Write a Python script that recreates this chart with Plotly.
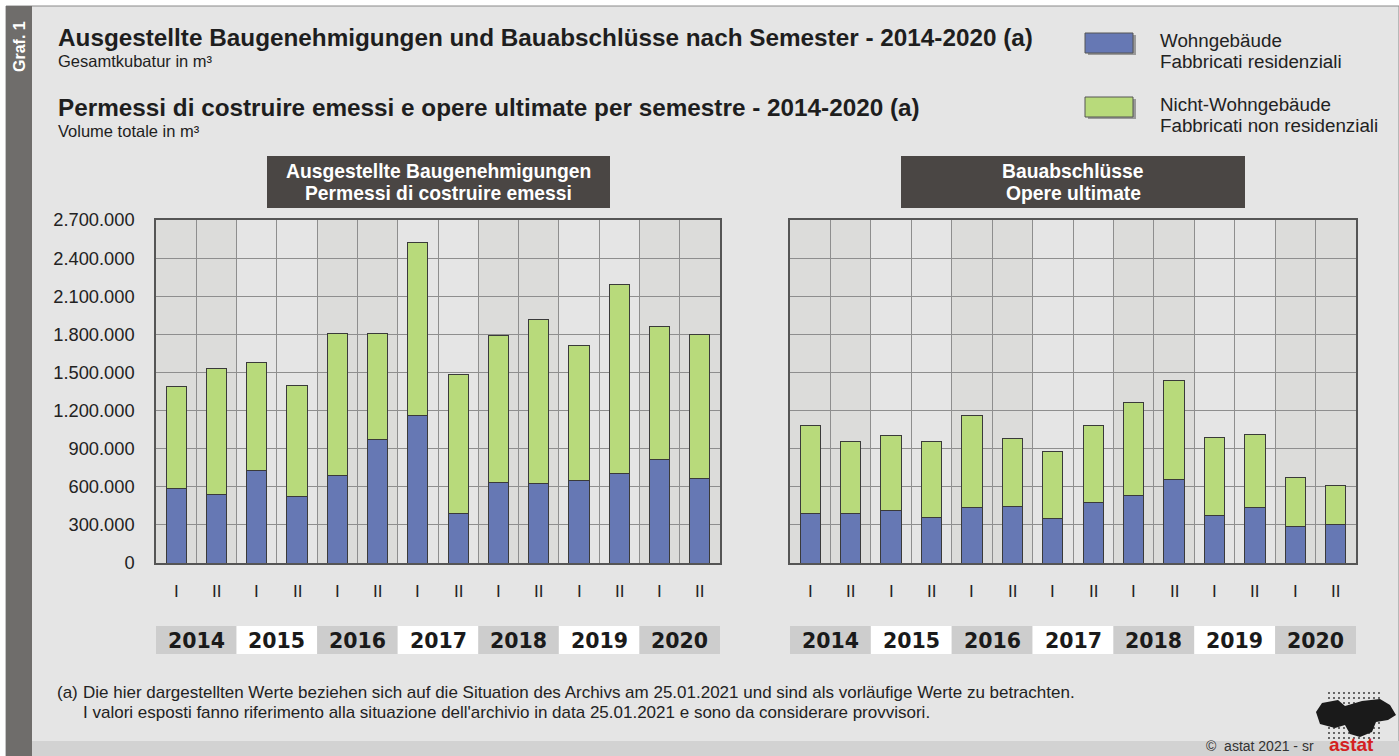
import plotly.graph_objects as go

W, H = 1399, 756

# ---------------- data ----------------
years = ["2014", "2015", "2016", "2017", "2018", "2019", "2020"]
semesters = ["I", "II"] * 7
ytick_vals = [0, 300000, 600000, 900000, 1200000, 1500000, 1800000, 2100000, 2400000, 2700000]
ytick_text = ["0", "300.000", "600.000", "900.000", "1.200.000", "1.500.000",
              "1.800.000", "2.100.000", "2.400.000", "2.700.000"]

perm_res = [590000, 541000, 730000, 520000, 690000, 974000, 1160000,
            388000, 630000, 627000, 648000, 703000, 811000, 667000]
perm_nonres = [800000, 992000, 850000, 879000, 1118000, 834000, 1364000,
               1097000, 1162000, 1286000, 1063000, 1491000, 1047000, 1128000]

compl_res = [386000, 391000, 417000, 357000, 433000, 446000, 349000,
             475000, 530000, 656000, 372000, 433000, 289000, 305000]
compl_nonres = [698000, 567000, 583000, 598000, 727000, 535000, 525000,
                611000, 735000, 779000, 614000, 577000, 386000, 309000]

name_res = "Wohngebäude / Fabbricati residenziali"
name_nonres = "Nicht-Wohngebäude / Fabbricati non residenziali"

# ---------------- styles ----------------
BLUE = "#6678B4"
GREEN = "#B8DA7B"
EDGE = "#3a3a3a"
BG = "#E5E5E5"
BAND = "#DCDCDA"
GRID = "#8E8E8E"
FONT = "Liberation Sans, Arial, sans-serif"
TXT = "#1e1e1e"


def px(x):
    return x / W


def py(y):
    return 1 - y / H


pos = list(range(len(semesters)))

fig = go.Figure()
for xa, ya, res, nonres in [("x", "y", perm_res, perm_nonres),
                            ("x2", "y2", compl_res, compl_nonres)]:
    fig.add_trace(go.Bar(x=pos, y=res, xaxis=xa, yaxis=ya, name=name_res,
                         marker=dict(color=BLUE, line=dict(color=EDGE, width=1)),
                         width=0.5, showlegend=False))
    fig.add_trace(go.Bar(x=pos, y=nonres, xaxis=xa, yaxis=ya, name=name_nonres,
                         marker=dict(color=GREEN, line=dict(color=EDGE, width=1)),
                         width=0.5, showlegend=False))

shapes = []
annotations = []


def text(x, y, t, size, color=TXT, xanchor="left", yanchor="middle", xref="paper", **kw):
    annotations.append(dict(xref=xref, yref="paper", x=x if xref != "paper" else px(x), y=py(y),
                            text=t, xanchor=xanchor, yanchor=yanchor, showarrow=False,
                            font=dict(size=size, color=color, family=kw.pop("family", FONT)), **kw))


# outer frame
shapes.append(dict(type="rect", xref="paper", yref="paper", x0=px(6), x1=px(1399),
                   y0=py(756), y1=py(6), fillcolor=BG, line=dict(color="#8a8a8a", width=1),
                   layer="below"))
shapes.append(dict(type="rect", xref="paper", yref="paper", x0=px(6), x1=px(1399),
                   y0=py(756), y1=py(741), fillcolor="#D2D2D2", line=dict(width=0),
                   layer="below"))
shapes.append(dict(type="rect", xref="paper", yref="paper", x0=px(6), x1=px(32),
                   y0=py(756), y1=py(6), fillcolor="#6F6D6B", line=dict(width=0),
                   layer="below"))
text(19, 47, "<b>Graf. 1</b>", 16, color="white", xanchor="center", textangle=-90)

# titles
text(56, 38, "<b>Ausgestellte Baugenehmigungen und Bauabschlüsse nach Semester - 2014-2020 (a)</b>", 24.3)
text(56, 61, "Gesamtkubatur in m³", 16.5)
text(56, 108, "<b>Permessi di costruire emessi e opere ultimate per semestre - 2014-2020 (a)</b>", 24.3)
text(56, 131, "Volume totale in m³", 16.5)

# custom legend
for (y0, y1, col, l1, l2, ty1, ty2) in [
        (33, 53, BLUE, "Wohngebäude", "Fabbricati residenziali", 41, 62),
        (97, 117, GREEN, "Nicht-Wohngebäude", "Fabbricati non residenziali", 105, 126)]:
    shapes.append(dict(type="rect", xref="paper", yref="paper", x0=px(1088), x1=px(1136),
                       y0=py(y1 + 2), y1=py(y0 + 2), fillcolor="#9a9a9a", line=dict(width=0),
                       layer="below"))
    shapes.append(dict(type="rect", xref="paper", yref="paper", x0=px(1085), x1=px(1133),
                       y0=py(y1), y1=py(y0), fillcolor=col, line=dict(color="#555555", width=1)))
    text(1158, ty1, l1, 18.8, color="#222222")
    text(1158, ty2, l2, 18.8, color="#222222")

# panel title boxes
for (x0, x1, t1, t2) in [(267, 610, "Ausgestellte Baugenehmigungen", "Permessi di costruire emessi"),
                         (901, 1245, "Bauabschlüsse", "Opere ultimate")]:
    shapes.append(dict(type="rect", xref="paper", yref="paper", x0=px(x0), x1=px(x1),
                       y0=py(208), y1=py(156), fillcolor="#4A4644", line=dict(width=0)))
    text((x0 + x1) / 2, 172, "<b>" + t1 + "</b>", 19.3, color="white", xanchor="center")
    text((x0 + x1) / 2, 193, "<b>" + t2 + "</b>", 19.3, color="white", xanchor="center")

# column bands, semester labels, year boxes
for xr in ["x", "x2"]:
    yr = "y" if xr == "x" else "y2"
    for k, yrlab in enumerate(years):
        if k % 2 == 0:
            shapes.append(dict(type="rect", xref=xr, yref=yr + " domain",
                               x0=2 * k - 0.5, x1=2 * k + 1.5, y0=0, y1=1,
                               fillcolor=BAND, line=dict(width=0), layer="below"))
        shapes.append(dict(type="rect", xref=xr, yref="paper",
                           x0=2 * k - 0.5, x1=2 * k + 1.5, y0=py(654), y1=py(626),
                           fillcolor="#CDCDCD" if k % 2 == 0 else "white",
                           line=dict(width=0), layer="below"))
        text(2 * k + 0.5, 641, "<b>" + yrlab + "</b>", 20.5, color="#1a1a1a",
             xanchor="center", xref=xr, family="DejaVu Sans, sans-serif")
    for i, s in enumerate(semesters):
        text(pos[i], 591, s, 17, color="#222222", xanchor="center", xref=xr)

# footnote
text(55, 692, "(a)", 17, color="#222222")
text(81, 692, "Die hier dargestellten Werte beziehen sich auf die Situation des Archivs am 25.01.2021 und sind als vorläufige Werte zu betrachten.", 17, color="#222222")
text(81, 712, "I valori esposti fanno riferimento alla situazione dell'archivio in data 25.01.2021 e sono da considerare provvisori.", 17, color="#222222")

# copyright + logo
text(1316, 746, "©  astat 2021 - sr", 14, color="#333333", xanchor="right")
text(1327, 744, "<b>astat</b>", 19, color="#D42020", xanchor="left")
for r in range(10):
    for c in range(11):
        cx = 1329 + c * 5
        cy = 693 + r * 5
        shapes.append(dict(type="circle", xref="paper", yref="paper",
                           x0=px(cx - 0.9), x1=px(cx + 0.9), y0=py(cy + 0.9), y1=py(cy - 0.9),
                           fillcolor="#2a2a2a", line=dict(width=0)))
logo = [(1316, 712), (1322, 703), (1338, 700), (1345, 706), (1362, 701), (1380, 699),
        (1390, 705), (1396, 715), (1388, 720), (1376, 722), (1372, 732), (1360, 737),
        (1350, 734), (1345, 725), (1335, 728), (1320, 724)]
path = "M " + " L ".join(f"{px(a):.5f},{py(b):.5f}" for a, b in logo) + " Z"
shapes.append(dict(type="path", xref="paper", yref="paper", path=path,
                   fillcolor="#1a1a1a", line=dict(width=0)))

axis_common = dict(range=[-0.5, 13.5], tickmode="array", automargin=False,
                   tickvals=[i - 0.5 for i in range(15)], showticklabels=False,
                   showgrid=True, gridcolor=GRID, gridwidth=1, ticks="",
                   showline=True, linecolor="#555555", linewidth=1.5, mirror=True, zeroline=False)
yaxis_common = dict(range=[0, 2700000], tickmode="array", tickvals=ytick_vals, automargin=False,
                    showgrid=True, gridcolor=GRID, gridwidth=1, ticks="",
                    showline=True, linecolor="#555555", linewidth=1.5, mirror=True, zeroline=False,
                    domain=[py(563), py(220)])

fig.update_layout(
    width=W, height=H, margin=dict(l=0, r=0, t=0, b=0, autoexpand=False),
    paper_bgcolor="white", plot_bgcolor="white",
    barmode="stack", bargap=0.5,
    font=dict(family=FONT),
    xaxis=dict(axis_common, domain=[px(156), px(720)], anchor="y"),
    xaxis2=dict(axis_common, domain=[px(790), px(1356)], anchor="y2"),
    yaxis=dict(yaxis_common, anchor="x", ticktext=ytick_text, showticklabels=True,
               ticklabelstandoff=16, tickfont=dict(size=18.3, color="#222222", family=FONT)),
    yaxis2=dict(yaxis_common, anchor="x2", showticklabels=False),
    shapes=shapes, annotations=annotations,
)

fig.write_html("out.html",
               config={"displayModeBar": False},
               post_script="document.documentElement.style.margin='0';"
                           "document.body.style.margin='0';"
                           "document.body.style.overflow='hidden';"
                           "var gd=document.getElementById('{plot_id}');"
                           "gd.style.position='fixed';gd.style.top='0px';gd.style.left='0px';")
